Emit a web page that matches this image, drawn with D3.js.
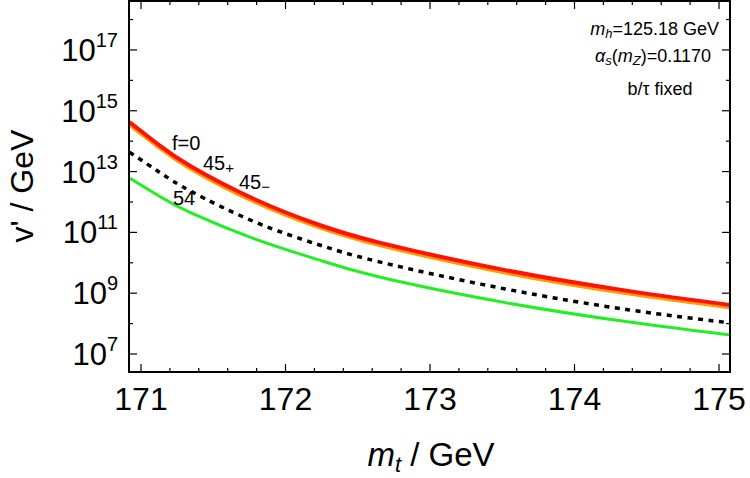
<!DOCTYPE html>
<html>
<head>
<meta charset="utf-8">
<script src="https://cdn.jsdelivr.net/npm/d3@7"></script>
<style>
  body { margin: 0; background: #fff; }
  text { font-family: "Liberation Sans", Arial, sans-serif; fill: #000; }
</style>
</head>
<body>
<div id="chart"></div>
<script>
"use strict"

// top mass values (GeV) where the curves were read
var mt = [170.92, 171.13, 171.35, 171.79, 172.22, 172.65, 173.52, 174.38, 175.08]

// v' / GeV for each curve
var v_f0     = [4.27e14, 7.16e13, 1.45e13, 1.21e12, 1.85e11, 4.61e10, 5.75e9, 1.17e9, 4.07e8]
var v_45     = [3.54e14, 5.94e13, 1.2e13, 1.0e12, 1.54e11, 3.83e10, 4.77e9, 9.7e8, 3.38e8]
var v_dashed = [4.37e13, 9.33e12, 2.19e12, 2.19e11, 4.07e10, 1.07e10, 1.38e9, 2.82e8, 1.05e8]
var v_54     = [6.17e12, 1.51e12, 4.27e11, 6.03e10, 1.29e10, 3.39e9, 4.9e8, 1.12e8, 4.17e7]

var x_domain = [170.917, 175.076]
var y_domain = [Math.pow(10, 6.408), Math.pow(10, 18.61)]

var x_labels = [171, 172, 173, 174, 175]
var y_exponents = [7, 8, 9, 10, 11, 12, 13, 14, 15, 16, 17, 18]

var settings = {
    width: 750,
    height: 478,
    left: 129,
    right: 730,
    top: 1,
    bottom: 372
}

var svg = d3.select("#chart").append("svg")
    .attr("width", settings.width)
    .attr("height", settings.height)

var x = d3.scaleLinear().domain(x_domain).range([settings.left, settings.right])
var y = d3.scaleLog().domain(y_domain).range([settings.bottom, settings.top])

svg.append("clipPath").attr("id", "clip")
    .append("rect")
    .attr("x", settings.left).attr("y", settings.top)
    .attr("width", settings.right - settings.left)
    .attr("height", settings.bottom - settings.top)

var linefunc = d3.line()
    .x(function(d) { return x(d[0]) })
    .y(function(d) { return y(d[1]) })
    .curve(d3.curveNatural)

function add_curve(vals, color, w, dash) {
    var data = mt.map(function(m, i) { return [m, vals[i]] })
    svg.append("path")
        .attr("clip-path", "url(#clip)")
        .attr("d", linefunc(data))
        .attr("fill", "none")
        .attr("stroke", color)
        .attr("stroke-width", w)
        .attr("stroke-dasharray", dash || null)
}

add_curve(v_54, "#22ee22", 3)
add_curve(v_dashed, "#000", 3.5, "5,5.5")
add_curve(v_45, "#ff9a00", 4)
add_curve(v_f0, "#ff1200", 4)

// frame
svg.append("rect")
    .attr("x", settings.left).attr("y", settings.top)
    .attr("width", settings.right - settings.left)
    .attr("height", settings.bottom - settings.top)
    .attr("fill", "none")
    .attr("stroke", "#000")
    .attr("stroke-width", 2)

// x ticks, every 0.2, bottom and top, inward
var xt = d3.range(0, 21).map(function(i) { return 171 + i * 0.2 })
xt.forEach(function(v, i) {
    var len = (i % 5 === 0) ? 8 : 4
    svg.append("line")
        .attr("x1", x(v)).attr("x2", x(v))
        .attr("y1", settings.bottom).attr("y2", settings.bottom - len)
        .attr("stroke", "#000").attr("stroke-width", 1.2)
    svg.append("line")
        .attr("x1", x(v)).attr("x2", x(v))
        .attr("y1", settings.top).attr("y2", settings.top + len)
        .attr("stroke", "#000").attr("stroke-width", 1.2)
})

svg.selectAll("text.xlab")
    .data(x_labels)
    .enter()
    .append("text")
    .attr("class", "xlab")
    .attr("x", function(d) { return x(d) })
    .attr("y", 410)
    .attr("text-anchor", "middle")
    .attr("font-size", 32)
    .text(function(d) { return d })

// y ticks, every decade, labels on odd exponents
y_exponents.forEach(function(e) {
    var yy = y(Math.pow(10, e))
    var len = (e % 2 === 1) ? 8 : 4
    svg.append("line")
        .attr("x1", settings.left).attr("x2", settings.left + len)
        .attr("y1", yy).attr("y2", yy)
        .attr("stroke", "#000").attr("stroke-width", 1.2)
    svg.append("line")
        .attr("x1", settings.right).attr("x2", settings.right - len)
        .attr("y1", yy).attr("y2", yy)
        .attr("stroke", "#000").attr("stroke-width", 1.2)
    if (e % 2 === 1) {
        var t = svg.append("text")
            .attr("x", 118)
            .attr("y", yy + 11)
            .attr("text-anchor", "end")
            .attr("font-size", 31)
        t.append("tspan").text("10")
        t.append("tspan").attr("font-size", 20).attr("dy", -14).text(e)
    }
})

// axis titles
var xt_title = svg.append("text")
    .attr("x", 431).attr("y", 466)
    .attr("text-anchor", "middle")
    .attr("font-size", 33)
xt_title.append("tspan").attr("font-style", "italic").text("m")
xt_title.append("tspan").attr("font-style", "italic").attr("font-size", 22).attr("dy", 6).text("t")
xt_title.append("tspan").attr("dy", -6).text(" / GeV")

svg.append("text")
    .attr("transform", "translate(33,186) rotate(-90)")
    .attr("text-anchor", "middle")
    .attr("font-size", 32)
    .text("v' / GeV")

// curve labels
function label(xp, yp, main, sub) {
    var t = svg.append("text").attr("x", xp).attr("y", yp).attr("font-size", 20)
    t.append("tspan").text(main)
    if (sub) t.append("tspan").attr("font-size", 15).attr("dy", 3).text(sub)
}
label(172, 150, "f=0")
label(203, 170, "45", "+")
label(239, 189, "45", "\u2212")
label(173, 205, "54")

// parameter box
var ann = svg.append("g").attr("font-size", 18)
var a1 = ann.append("text").attr("x", 719).attr("y", 35).attr("text-anchor", "end")
a1.append("tspan").attr("font-style", "italic").text("m")
a1.append("tspan").attr("font-style", "italic").attr("font-size", 13).attr("dy", 3).text("h")
a1.append("tspan").attr("dy", -3).text("=125.18 GeV")

var a2 = ann.append("text").attr("x", 711).attr("y", 62).attr("text-anchor", "end")
a2.append("tspan").attr("font-style", "italic").text("\u03b1")
a2.append("tspan").attr("font-style", "italic").attr("font-size", 13).attr("dy", 3).text("s")
a2.append("tspan").attr("dy", -3).text("(")
a2.append("tspan").attr("font-style", "italic").text("m")
a2.append("tspan").attr("font-style", "italic").attr("font-size", 13).attr("dy", 3).text("Z")
a2.append("tspan").attr("dy", -3).text(")=0.1170")

ann.append("text").attr("x", 660).attr("y", 95).attr("text-anchor", "middle")
    .text("b/\u03c4 fixed")
</script>
</body>
</html>
